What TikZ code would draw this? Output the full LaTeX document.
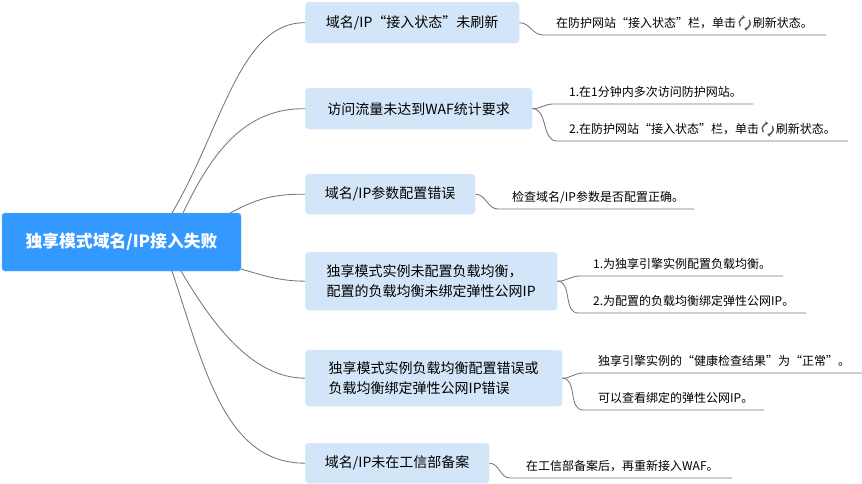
\documentclass[tikz,border=0pt]{standalone}
\usepackage{fontspec}
\setmainfont{Noto Sans CJK SC}
\usetikzlibrary{arrows.meta,backgrounds}
\definecolor{rootblue}{RGB}{51,153,255}
\definecolor{rootedge}{RGB}{110,180,255}
\definecolor{boxblue}{RGB}{211,229,248}
\definecolor{boxedge}{RGB}{224,237,251}
\definecolor{linegray}{RGB}{118,118,118}
\definecolor{icongray}{RGB}{90,90,90}
\newcommand{\refreshicon}{\hspace{1.5pt}\tikz[baseline=-4.3pt]{%
  \draw[icongray,line width=1.4pt,-{Stealth[length=3.2pt,width=4.2pt]}] (215:5.6pt) arc[start angle=215,end angle=85,radius=5.6pt];
  \draw[icongray,line width=1.4pt,-{Stealth[length=3.2pt,width=4.2pt]}] (35:5.6pt) arc[start angle=35,end angle=-95,radius=5.6pt];
  \path (-7pt,-7pt) rectangle (7pt,7pt);}\hspace{1pt}}
\begin{document}
\begin{tikzpicture}[x=1pt,y=-1pt,
  rootbox/.style={draw=rootedge,fill=rootblue,rounded corners=3pt,text=white,
    font=\fontsize{16.8}{20}\selectfont\bfseries,minimum width=239pt,minimum height=58pt,inner sep=0pt},
  topicbox/.style={draw=boxedge,fill=boxblue,rounded corners=3.5pt,anchor=north west,
    font=\fontsize{14}{19.5}\selectfont,align=left,inner sep=0pt},
  leaftext/.style={anchor=west,inner sep=0pt,font=\fontsize{12}{14}\selectfont},
  conn/.style={draw=linegray,line width=0.85pt}]
\useasboundingbox (0,0) rectangle (862,484);
% root
\node[rootbox] (root) at (121.5,242) {独享模式域名/IP接入失败};
% topics
\node[topicbox,minimum width=214pt,minimum height=41pt] (b1) at (305,2) {域名/IP“接入状态”未刷新};
\node[topicbox,minimum width=227pt,minimum height=41pt] (b2) at (305,88) {访问流量未达到WAF统计要求};
\node[topicbox,minimum width=170pt,minimum height=40pt] (b3) at (305,174) {域名/IP参数配置错误};
\node[topicbox,minimum width=252pt,minimum height=58pt] (b4) at (305,252) {独享模式实例未配置负载均衡，\\配置的负载均衡未绑定弹性公网IP};
\node[topicbox,minimum width=257pt,minimum height=56pt] (b5) at (305,350) {独享模式实例负载均衡配置错误或\\负载均衡绑定弹性公网IP错误};
\node[topicbox,minimum width=184pt,minimum height=40pt] (b6) at (305,443) {域名/IP未在工信部备案};
% leaf texts
\node[leaftext] (t1) at (556,23) {在防护网站“接入状态”栏，单击\refreshicon 刷新状态。};
\node[leaftext] (t2a) at (569,92) {1.在1分钟内多次访问防护网站。};
\node[leaftext] (t2b) at (569,129) {2.在防护网站“接入状态”栏，单击\refreshicon 刷新状态。};
\node[leaftext] (t3) at (512,197) {检查域名/IP参数是否配置正确。};
\node[leaftext] (t4a) at (593,264) {1.为独享引擎实例配置负载均衡。};
\node[leaftext] (t4b) at (593,301) {2.为配置的负载均衡绑定弹性公网IP。};
\node[leaftext] (t5a) at (598,361) {独享引擎实例的“健康检查结果”为“正常”。};
\node[leaftext] (t5b) at (598,398) {可以查看绑定的弹性公网IP。};
\node[leaftext] (t6) at (526,466) {在工信部备案后，再重新接入WAF。};
% coordinates
\coordinate (r1) at (172,213);
\coordinate (r2) at (183,213);
\coordinate (r3) at (230,213);
\coordinate (r4) at (241,269);
\coordinate (r5) at (181,271);
\coordinate (r6) at (172,271);
\coordinate (l1s) at (543,35);   \coordinate (l1e) at (826,35);
\coordinate (l2as) at (553,104); \coordinate (l2ae) at (753,104);
\coordinate (l2bs) at (557,141); \coordinate (l2be) at (848,141);
\coordinate (l3s) at (498,209);  \coordinate (l3e) at (694,209);
\coordinate (l4as) at (580,276); \coordinate (l4ae) at (783,276);
\coordinate (l4bs) at (578,313); \coordinate (l4be) at (806,313);
\coordinate (l5as) at (583,373); \coordinate (l5ae) at (862,373);
\coordinate (l5bs) at (583,410); \coordinate (l5be) at (764,410);
\coordinate (l6s) at (510,478);  \coordinate (l6e) at (732,478);
\begin{pgfonlayer}{background}
\path[conn] (r1) .. controls (222,128) and (240,22) .. (b1.west);
\path[conn] (r2) .. controls (212,152) and (245,108) .. (b2.west);
\path[conn] (r3) .. controls (255,200) and (270,194) .. (b3.west);
\path[conn] (r4) .. controls (265,276) and (280,281) .. (b4.west);
\path[conn] (r5) .. controls (210,320) and (250,378) .. (b5.west);
\path[conn] (r6) .. controls (205,370) and (225,463) .. (b6.west);
\end{pgfonlayer}
\path[conn] (b1.east) to[out=0,in=180] (l1s) -- (l1e);
\path[conn] (b2.east) to[out=0,in=180] (l2as) -- (l2ae);
\path[conn] (b2.east) to[out=0,in=180] (l2bs) -- (l2be);
\path[conn] (b3.east) to[out=0,in=180] (l3s) -- (l3e);
\path[conn] (b4.east) to[out=0,in=180] (l4as) -- (l4ae);
\path[conn] (b4.east) to[out=0,in=180] (l4bs) -- (l4be);
\path[conn] (b5.east) to[out=0,in=180] (l5as) -- (l5ae);
\path[conn] (b5.east) to[out=0,in=180] (l5bs) -- (l5be);
\path[conn] (b6.east) to[out=0,in=180] (l6s) -- (l6e);
\end{tikzpicture}
\end{document}
